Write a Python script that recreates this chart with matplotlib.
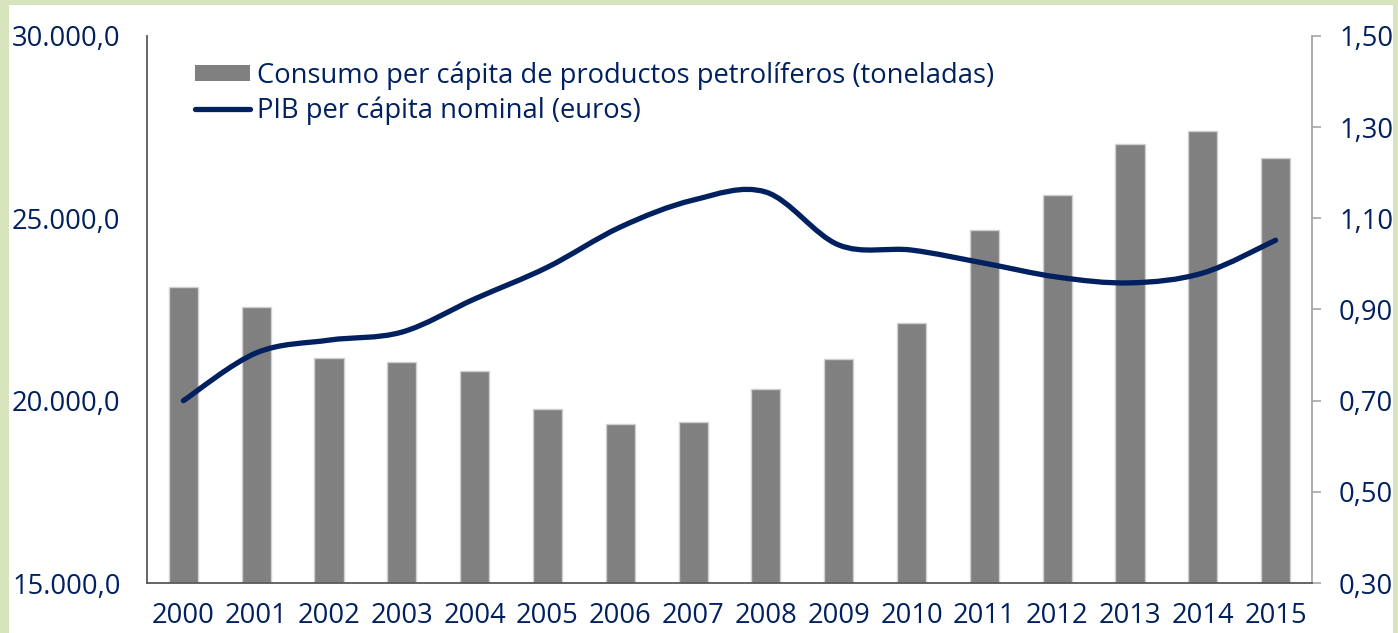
import numpy as np
import matplotlib
matplotlib.use("Agg")
import matplotlib.pyplot as plt
from matplotlib.patches import Rectangle, Patch, PathPatch
from matplotlib.lines import Line2D
from matplotlib.path import Path
from matplotlib.ticker import FuncFormatter, FixedLocator

# data
years = ["2000", "2001", "2002", "2003", "2004", "2005", "2006", "2007",
         "2008", "2009", "2010", "2011", "2012", "2013", "2014", "2015"]
consumo = [0.95, 0.905, 0.794, 0.785, 0.765, 0.682, 0.649, 0.653,
           0.726, 0.791, 0.870, 1.074, 1.151, 1.263, 1.292, 1.232]
pib = [20000, 21310, 21660, 21880, 22790, 23660, 24760, 25500,
       25720, 24270, 24130, 23770, 23390, 23230, 23500, 24400]
label_bar = "Consumo per cápita de productos petrolíferos (toneladas)"
label_line = "PIB per cápita nominal (euros)"

navy = "#002060"
fs = 19.7
plt.rcParams['font.family'] = ['Open Sans', 'DejaVu Sans']

fig = plt.figure(figsize=(13.98, 6.33), dpi=100, facecolor="#d7e4bd")
fig.patches.append(Rectangle((9 / 1398, 0), 1384 / 1398, 628 / 633,
                             transform=fig.transFigure, facecolor="white",
                             edgecolor="none", zorder=-5))

ax = fig.add_axes([147 / 1398, 1 - 583 / 633, 1165 / 1398, 547 / 633])
ax.set_facecolor("none")
ax2 = ax.twinx()   # line axis, drawn above the bars
x = np.arange(len(years))

# bars on the right-hand scale
ax.bar(x, consumo, width=0.4, color="#808080", edgecolor="#d0d0d0",
       linewidth=1.0, zorder=2)
ax.set_xlim(-0.5, len(years) - 0.5)
ax.set_ylim(0.30, 1.50)
ax.yaxis.tick_right()
ax.yaxis.set_major_locator(FixedLocator([0.3, 0.5, 0.7, 0.9, 1.1, 1.3, 1.5]))
ax.yaxis.set_major_formatter(FuncFormatter(lambda v, p: f"{v:.2f}".replace(".", ",")))
ax.tick_params(axis="y", right=True, left=False, labelright=True, labelleft=False,
               length=6.5, width=1.2, color="#a6a6a6",
               pad=13, labelsize=fs, labelcolor=navy)
ax.set_xticks(x)
ax.set_xticklabels(years)
ax.tick_params(axis="x", length=0, pad=14, labelsize=fs, labelcolor=navy)
ax.spines["top"].set_visible(False)
ax.spines["left"].set_color("#595959")
ax.spines["left"].set_linewidth(1.3)
ax.spines["bottom"].set_color("#595959")
ax.spines["bottom"].set_linewidth(1.3)
ax.spines["right"].set_color("#a6a6a6")
ax.spines["right"].set_linewidth(1.3)

# line on the left-hand scale, drawn as a smoothed curve through the points
ax2.set_ylim(15000, 30000)
ax2.yaxis.tick_left()
ax2.yaxis.set_major_locator(FixedLocator([15000, 20000, 25000, 30000]))
fmt = lambda v, p: f"{v:,.1f}".replace(",", "X").replace(".", ",").replace("X", ".")
ax2.yaxis.set_major_formatter(FuncFormatter(fmt))
ax2.tick_params(axis="y", length=0, pad=19, labelsize=fs, labelcolor=navy,
                left=True, labelleft=True, right=False, labelright=False)
for s in ax2.spines.values():
    s.set_visible(False)

pts = np.column_stack([x, pib]).astype(float)
verts = [pts[0]]
codes = [Path.MOVETO]
for i in range(len(pts) - 1):
    p0 = pts[max(i - 1, 0)]
    p1 = pts[i]
    p2 = pts[i + 1]
    p3 = pts[min(i + 2, len(pts) - 1)]
    verts += [p1 + (p2 - p0) / 6, p2 - (p3 - p1) / 6, p2]
    codes += [Path.CURVE4] * 3
curve = PathPatch(Path(verts, codes), facecolor="none", edgecolor=navy,
                  linewidth=3.8, capstyle="round", joinstyle="round", zorder=3)
ax2.add_patch(curve)

handles = [Patch(facecolor="#808080", edgecolor="none"),
           Line2D([], [], color=navy, linewidth=3.8, solid_capstyle="round")]
ax2.legend(handles, [label_bar, label_line], loc="upper left",
           bbox_to_anchor=(195 / 1398, 1 - 61 / 633), bbox_transform=fig.transFigure,
           frameon=False, fontsize=fs, labelcolor=navy, handlelength=2.0,
           handleheight=0.55, handletextpad=0.25, labelspacing=0.26,
           borderpad=0, borderaxespad=0)

plt.savefig("out.png", dpi=100, facecolor=fig.get_facecolor())
